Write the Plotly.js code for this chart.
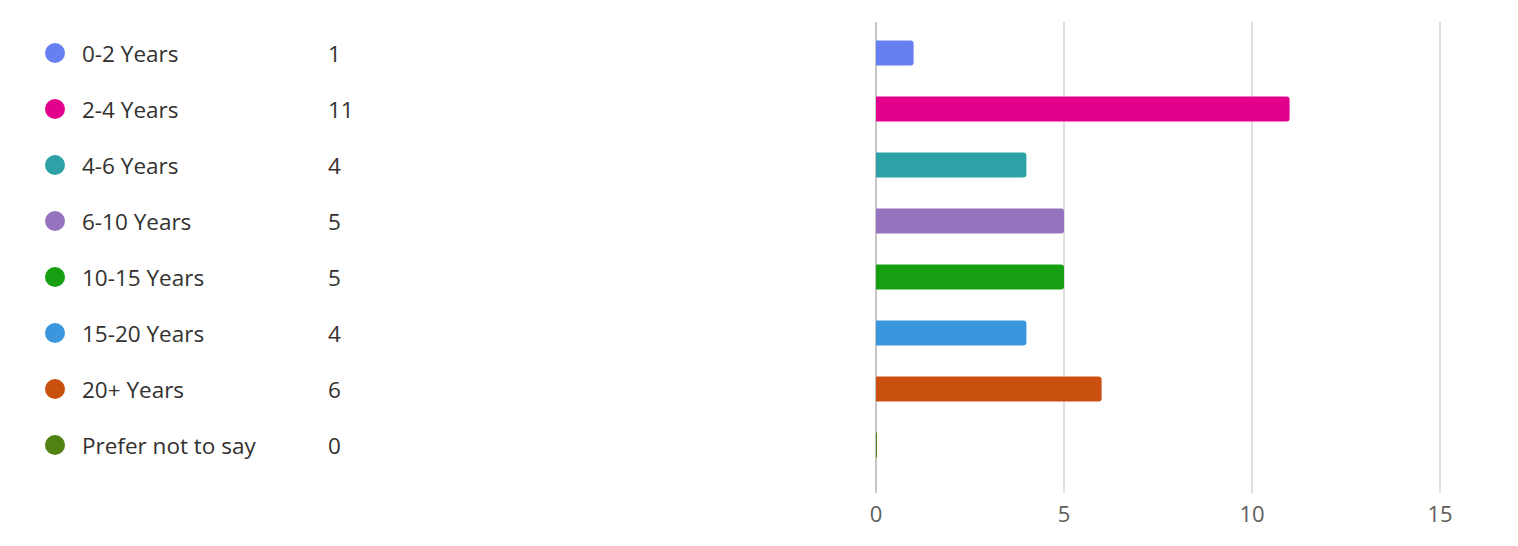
<!DOCTYPE html>
<html>
<head>
<meta charset="utf-8">
<script src="https://cdn.plot.ly/plotly-3.0.1.min.js"></script>
<style>html,body{margin:0;padding:0;background:#fff;}#chart{width:1518px;height:546px;}</style>
</head>
<body>
<div id="chart"></div>
<script>
const categories = ["0-2 Years","2-4 Years","4-6 Years","6-10 Years","10-15 Years","15-20 Years","20+ Years","Prefer not to say"];
const counts = [1, 11, 4, 5, 5, 4, 6, 0];
const colors = ["#6780f1","#e3008c","#2ca1a6","#9573bf","#16a011","#3a97de","#ca5010","#4f8212"];
const xTicks = [0, 5, 10, 15];

const FONT = "'Open Sans', 'Noto Sans', sans-serif";
const W = 1518, H = 546;
const mL = 20, mR = 60, mT = 22, mB = 53;
const plotW = W - mL - mR;
const zeroPx = 876;
const dom0 = (zeroPx - mL) / plotW;
const leftEnd = 0.55;
const x2range = [mL, mL + leftEnd * plotW];
const BAR_W = 0.45;

const bars = {
  type: 'bar', orientation: 'h',
  x: counts, y: categories,
  marker: {color: colors, cornerradius: 3, line: {width: 0}},
  width: BAR_W,
  hoverinfo: 'x+y',
  xaxis: 'x', yaxis: 'y',
  showlegend: false
};
const dots = {
  type: 'scatter', mode: 'markers',
  x: categories.map(() => 55), y: categories,
  marker: {color: colors, size: 20},
  xaxis: 'x2', yaxis: 'y',
  hoverinfo: 'skip', showlegend: false, cliponaxis: false
};

const annotations = [];
categories.forEach((c, i) => {
  annotations.push({xref: 'x2', yref: 'y', x: 80, y: c, text: c, showarrow: false,
    xanchor: 'left', yanchor: 'middle', font: {family: FONT, size: 22.5, color: '#323130'}});
  annotations.push({xref: 'x2', yref: 'y', x: 326, y: c, text: String(counts[i]), showarrow: false,
    xanchor: 'left', yanchor: 'middle', font: {family: FONT, size: 22.5, color: '#323130'}});
});

// zero-valued bars are drawn as a thin stroke at the baseline
const shapes = [];
counts.forEach((v, i) => {
  if (v === 0) {
    shapes.push({type: 'line', xref: 'x', yref: 'y', x0: v, x1: v,
      y0: i - BAR_W / 2, y1: i + BAR_W / 2, line: {color: colors[i], width: 2}, layer: 'above'});
  }
});

const layout = {
  width: W, height: H,
  margin: {l: mL, r: mR, t: mT, b: mB, pad: 0},
  paper_bgcolor: '#fff', plot_bgcolor: '#fff',
  font: {family: FONT, color: '#605e5c'},
  xaxis: {
    domain: [dom0, 1], range: [0, (W - mR - zeroPx) / 37.6],
    tickvals: xTicks, ticktext: xTicks.map(String),
    showgrid: true, gridcolor: '#e1dfdd', gridwidth: 2,
    zeroline: true, zerolinecolor: '#c8c6c4', zerolinewidth: 2,
    showline: false, ticks: '', ticklen: 0, ticklabelstandoff: 6,
    tickfont: {family: FONT, size: 22, color: '#605e5c'},
    fixedrange: true
  },
  xaxis2: {
    domain: [0, leftEnd], range: x2range, visible: false, fixedrange: true, anchor: 'y'
  },
  yaxis: {
    type: 'category', categoryorder: 'array', categoryarray: categories,
    range: [7.857, -0.554], visible: false, showgrid: false, fixedrange: true
  },
  annotations: annotations,
  shapes: shapes,
  showlegend: false
};

Plotly.newPlot('chart', [bars, dots], layout, {displayModeBar: false, staticPlot: true});
</script>
</body>
</html>
